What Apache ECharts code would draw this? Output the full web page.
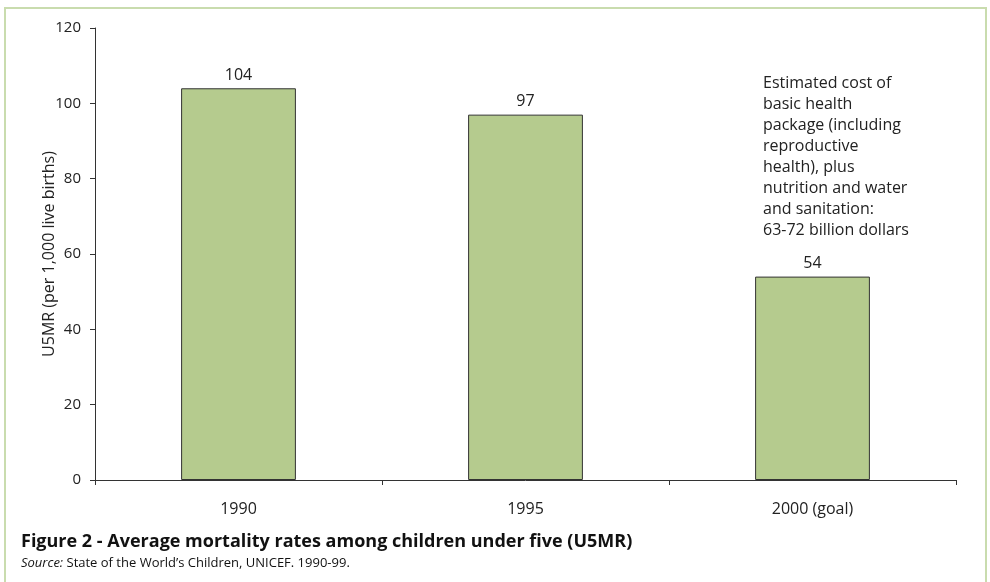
<!DOCTYPE html>
<html>
<head>
<meta charset="utf-8">
<script src="https://cdn.jsdelivr.net/npm/echarts@6/dist/echarts.min.js"></script>
<style>
  html, body { margin: 0; padding: 0; background: #fff; }
  #chart { width: 990px; height: 582px; }
</style>
</head>
<body>
<div id="chart"></div>
<script>
// Under-five mortality rate per 1,000 live births
const categories = ['1990', '1995', '2000 (goal)'];
const u5mrValues = [104, 97, 54];
const yTicks = { min: 0, max: 120, interval: 20 };

const FONT = '"Open Sans", "Noto Sans", sans-serif';
const TEXT = '#222';

const chart = echarts.init(document.getElementById('chart'), null, { renderer: 'canvas' });

chart.setOption({
  animation: false,
  backgroundColor: '#fff',
  textStyle: { fontFamily: FONT, color: TEXT },
  grid: { left: 95, right: 34, top: 28, bottom: 102 },
  xAxis: {
    type: 'category',
    data: categories,
    boundaryGap: true,
    axisLine: { lineStyle: { color: '#333', width: 1 } },
    axisTick: { show: true, length: 5, inside: false, lineStyle: { color: '#333' } },
    axisLabel: { color: TEXT, fontSize: 16, fontFamily: FONT, margin: 21 }
  },
  yAxis: {
    type: 'value',
    min: yTicks.min,
    max: yTicks.max,
    interval: yTicks.interval,
    name: 'U5MR (per 1,000 live births)',
    nameLocation: 'middle',
    nameGap: 38,
    nameRotate: 90,
    nameMoveOverlap: false,
    nameTextStyle: { color: TEXT, fontSize: 16, fontFamily: FONT },
    axisLine: { show: true, lineStyle: { color: '#333', width: 1 } },
    axisTick: { show: true, length: 5, lineStyle: { color: '#333' } },
    axisLabel: { color: TEXT, fontSize: 15, fontFamily: FONT, margin: 14 },
    splitLine: { show: false }
  },
  series: [{
    type: 'bar',
    data: u5mrValues,
    barWidth: '40%',
    itemStyle: { color: '#b5cb8e', borderColor: '#333', borderWidth: 1 },
    label: {
      show: true,
      position: 'top',
      distance: 5,
      color: TEXT,
      fontSize: 16,
      fontFamily: FONT
    }
  }],
  graphic: [
    {
      type: 'rect',
      shape: { x: 5, y: 8, width: 981, height: 600 },
      style: { fill: 'none', stroke: '#c9dcae', lineWidth: 2 },
      silent: true
    },
    {
      type: 'text',
      left: 763,
      top: 73,
      style: {
        text: 'Estimated cost of\nbasic health\npackage (including\nreproductive\nhealth), plus\nnutrition and water\nand sanitation:\n63-72 billion dollars',
        fill: TEXT,
        font: '16px ' + FONT,
        lineHeight: 21
      }
    },
    {
      type: 'text',
      left: 21,
      top: 533,
      style: {
        text: 'Figure 2 - Average mortality rates among children under five (U5MR)',
        fill: '#111',
        font: 'bold 18px ' + FONT
      }
    },
    {
      type: 'text',
      left: 21,
      top: 557,
      style: {
        text: '{i|Source:} State of the World\u2019s Children, UNICEF. 1990-99.',
        fill: '#111',
        font: '13px ' + FONT,
        rich: {
          i: { fontStyle: 'italic', fontSize: 13, fontFamily: FONT, fill: '#111' }
        }
      }
    }
  ]
});
</script>
</body>
</html>
